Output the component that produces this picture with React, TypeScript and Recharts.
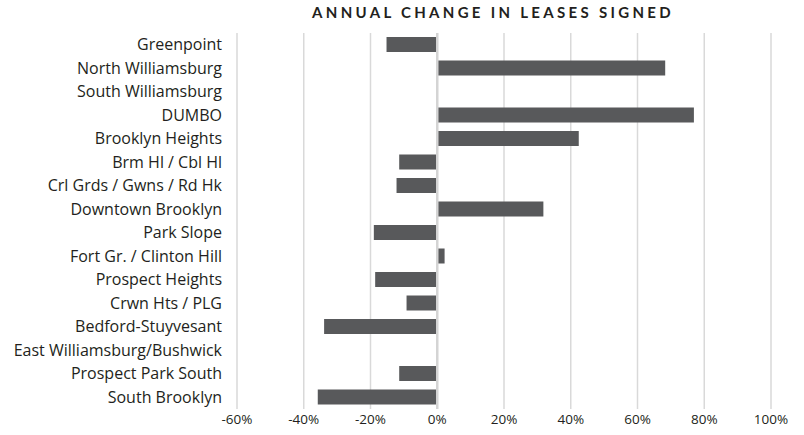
import React from "react";
import {
  BarChart,
  Bar,
  XAxis,
  YAxis,
  CartesianGrid,
  ReferenceLine,
} from "recharts";

const neighborhoods = [
  "Greenpoint",
  "North Williamsburg",
  "South Williamsburg",
  "DUMBO",
  "Brooklyn Heights",
  "Brm Hl / Cbl Hl",
  "Crl Grds / Gwns / Rd Hk",
  "Downtown Brooklyn",
  "Park Slope",
  "Fort Gr. / Clinton Hill",
  "Prospect Heights",
  "Crwn Hts / PLG",
  "Bedford-Stuyvesant",
  "East Williamsburg/Bushwick",
  "Prospect Park South",
  "South Brooklyn",
];

// annual change, fraction (null = no bar)
const annualChange: (number | null)[] = [
  -0.152, 0.683, null, 0.769, 0.424, -0.114, -0.122, 0.318, -0.19, 0.022,
  -0.186, -0.092, -0.339, null, -0.114, -0.358,
];

const xTicks = [-0.6, -0.4, -0.2, 0, 0.2, 0.4, 0.6, 0.8, 1.0];

const data = neighborhoods.map((name, i) => ({
  name,
  change: annualChange[i],
}));

const FONT = "'Open Sans', Lato, sans-serif";

export default function App() {
  return (
    <div
      style={{
        position: "absolute",
        left: 0,
        top: 0,
        width: 804,
        height: 435,
        background: "#fff",
        fontFamily: FONT,
      }}
    >
      <div
        style={{
          position: "absolute",
          top: 3,
          left: 0,
          width: 986,
          textAlign: "center",
          fontSize: 15,
          fontWeight: 700,
          letterSpacing: 3.3,
          color: "#231f20",
          fontFamily: "Lato, sans-serif",
        }}
      >
        ANNUAL CHANGE IN LEASES SIGNED
      </div>
      <BarChart
        width={804}
        height={435}
        data={data}
        layout="vertical"
        margin={{ top: 33, right: 33, bottom: 0, left: 0 }}
        barSize={15}
      >
        <CartesianGrid
          horizontal={false}
          stroke="#d9d9d9"
          strokeWidth={1.5}
        />
        <XAxis
          type="number"
          domain={[-0.6, 1.0]}
          ticks={xTicks}
          tickFormatter={(v: number) => `${Math.round(v * 100)}%`}
          axisLine={false}
          tickLine={false}
          tickSize={0}
          tickMargin={5}
          height={26}
          tick={{ fill: "#231f20", fontSize: 13.5, fontFamily: FONT }}
          interval={0}
        />
        <YAxis
          type="category"
          dataKey="name"
          width={237}
          axisLine={false}
          tickLine={false}
          tickSize={0}
          tickMargin={15}
          interval={0}
          tick={{ fill: "#231f20", fontSize: 16, fontFamily: FONT }}
        />
        <Bar dataKey="change" fill="#58595b" isAnimationActive={false} />
        <ReferenceLine x={0} stroke="#d4d4d4" strokeWidth={2.5} />
      </BarChart>
    </div>
  );
}
